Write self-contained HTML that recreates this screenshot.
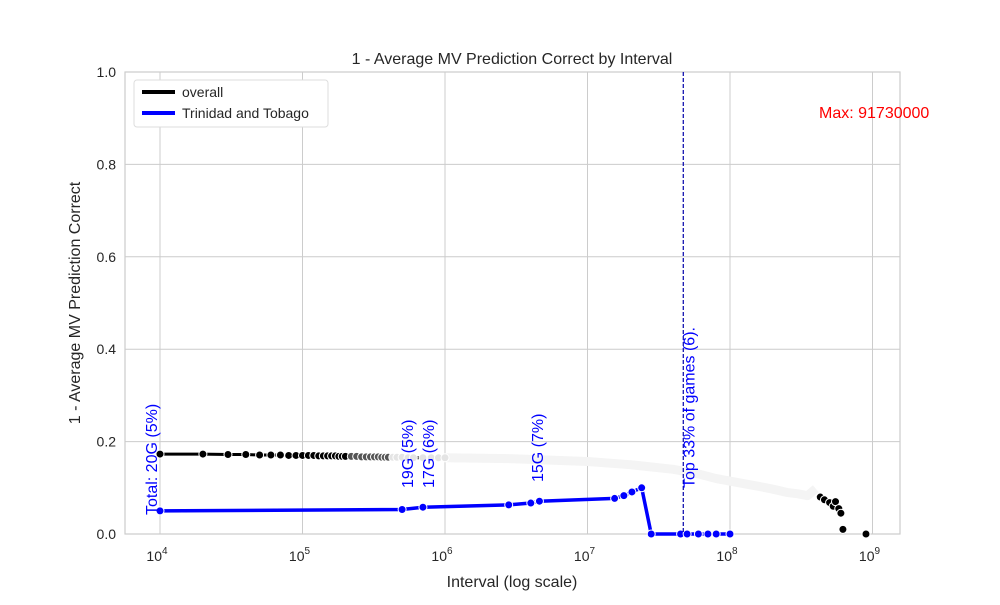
<!DOCTYPE html>
<html><head><meta charset="utf-8"><style>
body{margin:0;background:#fff;font-family:"Liberation Sans",sans-serif}
text{font-family:"Liberation Sans",sans-serif}
</style></head><body>
<svg id="c" width="1000" height="600" xmlns="http://www.w3.org/2000/svg"></svg>
<script>
const overallX=[1e4,2e4,3e4,4e4,5e4,6e4,7e4,8e4,9e4,1e5,1.1e5,1.2e5,1.3e5,1.4e5,1.5e5,1.6e5,1.7e5,1.8e5,1.9e5,2e5,2.2e5,2.4e5,2.6e5,2.8e5,3e5,3.2e5,3.4e5,3.6e5,3.8e5,4e5,4.3e5,4.6e5,5e5,5.5e5,6e5,7e5,8e5,9e5,1e6];
const overallY=[0.173,0.173,0.172,0.172,0.171,0.171,0.171,0.170,0.170,0.170,0.170,0.170,0.169,0.169,0.169,0.169,0.169,0.168,0.168,0.168,0.168,0.168,0.167,0.167,0.167,0.167,0.167,0.166,0.166,0.166,0.166,0.166,0.166,0.165,0.165,0.165,0.165,0.165,0.165];
const bandX=[1e6,3e6,1e7,2e7,4e7,6e7,8e7,1.2e8,1.6e8,2e8,2.5e8,3e8,3.5e8,4e8];
const bandY=[0.165,0.163,0.157,0.150,0.140,0.130,0.120,0.110,0.103,0.097,0.090,0.087,0.083,0.098];
const tailX=[4.3e8,4.6e8,5e8,5.3e8,5.5e8,5.8e8,6e8,6.2e8,9e8];
const tailY=[0.080,0.074,0.068,0.060,0.070,0.055,0.045,0.010,0.000];
const tntX=[1e4,5e5,7e5,2.8e6,4e6,4.6e6,1.55e7,1.8e7,2.05e7,2.4e7,2.8e7,4.5e7,5e7,6e7,7e7,8e7,1e8];
const tntY=[0.050,0.053,0.058,0.063,0.067,0.071,0.077,0.083,0.091,0.100,0,0,0,0,0,0,0];
const yTicks=[0,0.2,0.4,0.6,0.8,1.0];
const xTicks=[4,5,6,7,8,9];
const annots=[{x:1e4,t:"Total: 20G (5%)",b:515,dx:-3},{x:5e5,t:"19G (5%)",b:488,dx:11},{x:7e5,t:"17G (6%)",b:488,dx:11},{x:4e6,t:"15G (7%)",b:482,dx:12},{x:4.7e7,t:"Top 33% of games (6).",b:488,dx:11}];
const L=125,R=900,T=72,B=534;
const sx=v=>160+142.5*(Math.log10(v)-4);
const sy=v=>B-(B-T)*v;
const svg=document.getElementById('c');const NS='http://www.w3.org/2000/svg';
function el(tag,a,p){const e=document.createElementNS(NS,tag);for(const k in a)e.setAttribute(k,a[k]);(p||svg).appendChild(e);return e;}
el('rect',{x:L,y:T,width:R-L,height:B-T,fill:'#fff'});
yTicks.forEach(v=>{const g=el('line',{x1:L,x2:R,y1:sy(v),y2:sy(v),stroke:'#ccc','stroke-width':1});

const t=el('text',{x:L-9,y:sy(v)+5,'text-anchor':'end','font-size':14,fill:'#262626'});t.textContent=v.toFixed(1);
});
xTicks.forEach(p=>{const x=sx(Math.pow(10,p));const g=el('line',{x1:x,x2:x,y1:T,y2:B,stroke:'#ccc','stroke-width':1});

const t=el('text',{x:x-3,y:561,'text-anchor':'middle','font-size':14,fill:'#262626'});t.innerHTML='10<tspan dy="-7" font-size="10">'+p+'</tspan>';
});
el('rect',{x:L,y:T,width:R-L,height:B-T,fill:'none',stroke:'#ccc','stroke-width':1.2});
const band=el('polyline',{points:bandX.map((x,i)=>sx(x)+','+sy(bandY[i])).join(' '),fill:'none',stroke:'#f4f4f4','stroke-width':9,'stroke-linejoin':'round'});

const ol=el('polyline',{points:overallX.map((x,i)=>sx(x)+','+sy(overallY[i])).join(' '),fill:'none',stroke:'#000','stroke-width':3});

overallX.forEach((x,i)=>{const f=x<=2e5?'#000':(x<=4e5?'#555':'#e4e4e4');
const c=el('circle',{cx:sx(x),cy:sy(overallY[i]),r:4,fill:f,stroke:'#fff','stroke-width':1});
});
tailX.forEach((x,i)=>{const c=el('circle',{cx:sx(x),cy:sy(tailY[i]),r:4,fill:'#000',stroke:'#fff','stroke-width':1});
});
const tl=el('polyline',{points:tntX.map((x,i)=>sx(x)+','+sy(tntY[i])).join(' '),fill:'none',stroke:'#0000ff','stroke-width':3.5});

tntX.forEach((x,i)=>{const c=el('circle',{cx:sx(x),cy:sy(tntY[i]),r:4,fill:'#0000ff',stroke:'#fff','stroke-width':1});
});
const vl=el('line',{x1:sx(4.7e7),x2:sx(4.7e7),y1:T,y2:B,stroke:'#0000aa','stroke-width':1.2,'stroke-dasharray':'4,2'});

annots.forEach(a=>{const x=sx(a.x)+a.dx;const t=el('text',{x:0,y:0,transform:`translate(${x},${a.b}) rotate(-90)`,'font-size':16,fill:'#0000ff'});t.textContent=a.t;
});
const mx=el('text',{x:819,y:118,'font-size':16,fill:'#ff0000'});mx.textContent='Max: 91730000';

const ti=el('text',{x:512,y:64,'text-anchor':'middle','font-size':16,fill:'#262626'});ti.textContent='1 - Average MV Prediction Correct by Interval';

const xt=el('text',{x:512,y:587,'text-anchor':'middle','font-size':16,fill:'#262626'});xt.textContent='Interval (log scale)';

const yt=el('text',{x:0,y:0,transform:'translate(80,303) rotate(-90)','text-anchor':'middle','font-size':16,fill:'#262626'});yt.textContent='1 - Average MV Prediction Correct';

const lg=el('g',{});
el('rect',{x:134,y:80,width:194,height:47,rx:3,fill:'#fff',stroke:'#ddd'},lg);
const e1=el('line',{x1:142,x2:175,y1:92,y2:92,stroke:'#000','stroke-width':4},lg);

const t1=el('text',{x:182,y:97,'font-size':14,fill:'#262626'},lg);t1.textContent='overall';
const e2=el('line',{x1:142,x2:175,y1:113,y2:113,stroke:'#0000ff','stroke-width':4},lg);

const t2=el('text',{x:182,y:118,'font-size':14,fill:'#262626'},lg);t2.textContent='Trinidad and Tobago';
</script>
</body></html>
